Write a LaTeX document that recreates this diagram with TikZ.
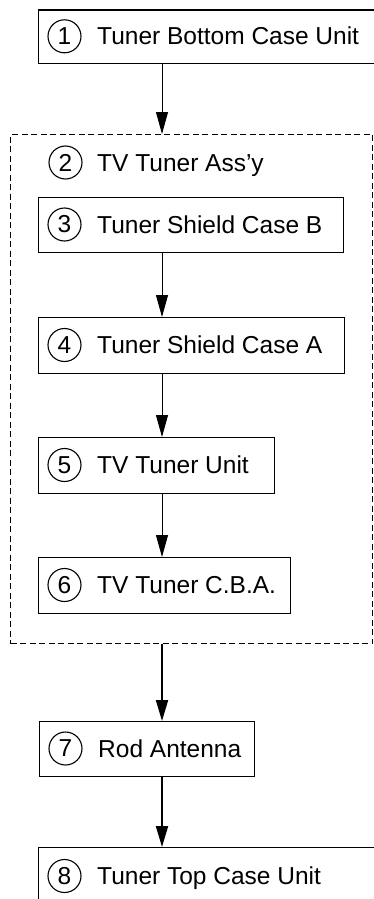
\documentclass[tikz,border=0pt]{standalone}
\usepackage{fontspec}
\setmainfont{Liberation Sans}
\usetikzlibrary{arrows.meta}
\begin{document}
\begin{tikzpicture}[x=1pt,y=-1pt,
  every node/.style={font=\fontsize{24.5}{28}\selectfont},
  box/.style={draw, line width=1.2pt, rectangle, inner sep=0pt, anchor=north west},
  num/.style={draw, circle, line width=1.1pt, minimum size=33pt, inner sep=0pt},
  lbl/.style={anchor=base west, inner sep=0pt},
  grp/.style={draw, dash pattern=on 6pt off 3.5pt, line width=1.3pt, rectangle, inner sep=0pt, anchor=north west},
  arr/.style={line width=1pt, -{Triangle[length=22pt,width=12pt]}},
  arrb/.style={line width=2pt, -{Triangle[length=21pt,width=12pt]}}
]
\useasboundingbox (0,0) rectangle (374,899);
\coordinate (ax) at (162,0);
% box 1
\node[box, minimum width=350pt, minimum height=53.5pt] (b1) at (38,9.5) {};
\node[num] (c1) at (64.5,36.3) {1};
\node[lbl] (t1) at (97,44.8) {Tuner Bottom Case Unit};
% group 2
\node[grp, minimum width=362pt, minimum height=509pt] (g2) at (10,134) {};
\node[num] (c2) at (65.5,162.5) {2};
\node[lbl] (t2) at (97,171) {TV Tuner Ass'y};
% box 3
\node[box, minimum width=305pt, minimum height=55pt] (b3) at (38,197) {};
\node[num] (c3) at (64.5,224.5) {3};
\node[lbl] (t3) at (97,233) {Tuner Shield Case B};
% box 4
\node[box, minimum width=306pt, minimum height=56pt] (b4) at (38,317) {};
\node[num] (c4) at (64.5,345) {4};
\node[lbl] (t4) at (97,353.5) {Tuner Shield Case A};
% box 5
\node[box, minimum width=236pt, minimum height=56pt] (b5) at (38,437) {};
\node[num] (c5) at (64.5,465) {5};
\node[lbl] (t5) at (97,473.5) {TV Tuner Unit};
% box 6
\node[box, minimum width=252pt, minimum height=56pt] (b6) at (38,557) {};
\node[num] (c6) at (64.5,585) {6};
\node[lbl] (t6) at (97,593.5) {TV Tuner C.B.A.};
% box 7
\node[box, minimum width=215pt, minimum height=55pt] (b7) at (39,721) {};
\node[num] (c7) at (65.5,748.5) {7};
\node[lbl] (t7) at (98,757) {Rod Antenna};
% box 8
\node[box, minimum width=350pt, minimum height=70pt] (b8) at (38,847) {};
\node[num] (c8) at (64.5,876) {8};
\node[lbl] (t8) at (97,884.5) {Tuner Top Case Unit};
% connectors
\draw[arr] (b1.south -| ax) -- (g2.north -| ax);
\draw[arr] (b3.south -| ax) -- (b4.north -| ax);
\draw[arr] (b4.south -| ax) -- (b5.north -| ax);
\draw[arr] (b5.south -| ax) -- (b6.north -| ax);
\draw[arrb] (g2.south -| ax) -- (b7.north -| ax);
\draw[arrb] (b7.south -| ax) -- (b8.north -| ax);
\end{tikzpicture}
\end{document}
